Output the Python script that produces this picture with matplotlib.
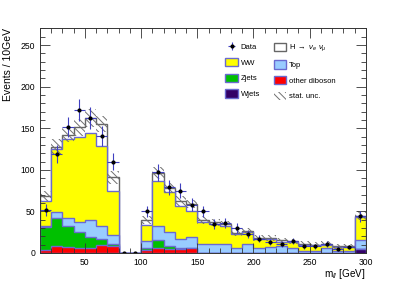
import matplotlib
matplotlib.use("Agg")
import matplotlib.pyplot as plt
import numpy as np
from matplotlib.patches import Patch
from matplotlib.ticker import MultipleLocator

plt.rcParams['font.family'] = ['Liberation Sans', 'DejaVu Sans']
plt.rcParams['mathtext.fontset'] = 'custom'
plt.rcParams['mathtext.rm'] = 'Liberation Sans'
plt.rcParams['mathtext.it'] = 'Liberation Sans:italic'
plt.rcParams['hatch.linewidth'] = 0.7

# bin edges, 10 GeV wide from 10 to 300
edges = np.arange(10, 301, 10)

# per-process contents
wjets = [0, 0, 0, 0, 0, 0, 0, 0, 0, 0, 0, 0, 0, 0, 0,
         0, 0, 0, 0, 0, 0, 0, 0, 0, 0, 0, 0, 0, 5]
other_diboson = [4, 8, 7, 6, 6.5, 10, 8, 0, 0, 3, 6, 5, 5, 6, 0,
                 0, 0, 0, 0, 0, 0, 0, 0, 0, 0, 0, 0, 0, 0]
zjets = [27, 34, 25, 19, 12.5, 7, 3, 0, 0, 3, 9, 3, 1, 0, 0,
         0, 0, 0, 0, 0, 0, 0, 0, 0, 0, 0, 0, 0, 0]
top = [2, 7, 10, 12, 21, 16, 11, 0, 0, 8, 18, 17, 11, 13, 11,
       11, 11, 6, 11, 6, 7, 8, 6, 2, 2, 6, 2, 2, 11]
ww = [29, 76, 95, 102, 104, 96, 52, 0, 0, 20, 54, 48, 39, 32, 26,
      24, 21, 17, 14, 11, 10, 5, 7, 7, 7, 4, 5, 5, 27]
higgs = [7, 3, 5, 12, 18, 26, 17, 0, 0, 6, 9, 5, 6, 8, 3,
         2, 3, 1, 1, 1, 1, 2, 1, 2, 1, 1, 1, 1, 2]
stat_unc = [6, 9, 9, 10, 11, 10, 8, 0, 0, 5, 7, 6, 6, 5, 5,
            4, 4, 4, 4, 4, 4, 3, 3, 3, 3, 3, 3, 3, 5]

data = [52, 119, 151, 172, 162, 141, 110, 0, 0, 50, 97, 79, 75, 58, 50,
        35, 36, 30, 23, 17, 13, 11, 14, 8, 8, 11, 5, 7, 44]
data_err = [7, 11, 12, 13, 13, 12, 10, 0, 0, 7, 10, 9, 9, 8, 7,
            6, 6, 5.5, 5, 4, 3.6, 3.3, 3.7, 2.8, 2.8, 3.3, 2.2, 2.6, 6.6]

edge_blue = '#6a6ad0'
hatch_grey = '#707070'
samples = [
    ('Wjets', wjets, '#330066', edge_blue),
    ('other diboson', other_diboson, '#ff0000', edge_blue),
    ('Zjets', zjets, '#00c000', edge_blue),
    ('Top', top, '#99ccff', edge_blue),
    ('WW', ww, '#ffff00', edge_blue),
    (r'H $\rightarrow$ $\nu_{e}$ $\nu_{\mu}$', higgs, 'white', '#666666'),
]

fig = plt.figure(figsize=(4.07, 2.82), dpi=100)
ax = fig.add_axes([0.098, 0.103, 0.801, 0.796])

# cumulative stack, drawn from the top down, each filled from zero
cum = np.cumsum([np.array(s[1], dtype=float) for s in samples], axis=0)
handles = {}
for i in range(len(samples) - 1, -1, -1):
    name, _, fc, ec = samples[i]
    ax.stairs(cum[i], edges, fill=True, facecolor=fc, edgecolor=ec, lw=1.0)
    handles[name] = Patch(facecolor=fc, edgecolor=ec, lw=1.0)

total = cum[-1]
unc = np.array(stat_unc, dtype=float)
ax.stairs(total + unc, edges, baseline=total - unc, fill=True,
          facecolor='none', edgecolor=hatch_grey, lw=0, hatch='\\\\\\\\\\')
handles['stat. unc.'] = Patch(facecolor='none', edgecolor=hatch_grey, lw=0,
                              hatch='\\\\\\\\\\')

centers = 0.5 * (edges[:-1] + edges[1:])
eb = ax.errorbar(centers, data, xerr=5, yerr=data_err, fmt='o', ms=2,
                 color='black', ecolor='#4040c0', elinewidth=0.8, capsize=0)

ax.set_xlim(10, 300)
ax.set_ylim(0, 270)
ax.xaxis.set_major_locator(MultipleLocator(50))
ax.xaxis.set_minor_locator(MultipleLocator(10))
ax.yaxis.set_major_locator(MultipleLocator(50))
ax.yaxis.set_minor_locator(MultipleLocator(10))
ax.tick_params(which='both', direction='in', top=True, right=True,
               labelsize=6.2, width=0.6, colors='#333333', labelcolor='black')
ax.tick_params(which='major', length=7)
ax.tick_params(which='minor', length=3.5)
for sp in ax.spines.values():
    sp.set_linewidth(0.7)
    sp.set_color('#333333')

ax.set_ylabel('Events / 10GeV', fontsize=7.5, loc='top', labelpad=5)
ax.set_xlabel(r'm$_{ll}$ [GeV]', fontsize=7.2, loc='right', labelpad=0)

order = [('Data', eb), ('WW', handles['WW']), ('Zjets', handles['Zjets']),
         ('Wjets', handles['Wjets']),
         (samples[-1][0], handles[samples[-1][0]]), ('Top', handles['Top']),
         ('other diboson', handles['other diboson']),
         ('stat. unc.', handles['stat. unc.'])]
ax.legend([h for _, h in order], [n for n, _ in order], ncol=2,
          frameon=False, fontsize=5.5, loc='upper left',
          bbox_to_anchor=(0.548, 0.968), handlelength=1.6, handleheight=1.3,
          labelspacing=0.9, columnspacing=1.8, handletextpad=0.4)

fig.savefig('out.png', dpi=100)
